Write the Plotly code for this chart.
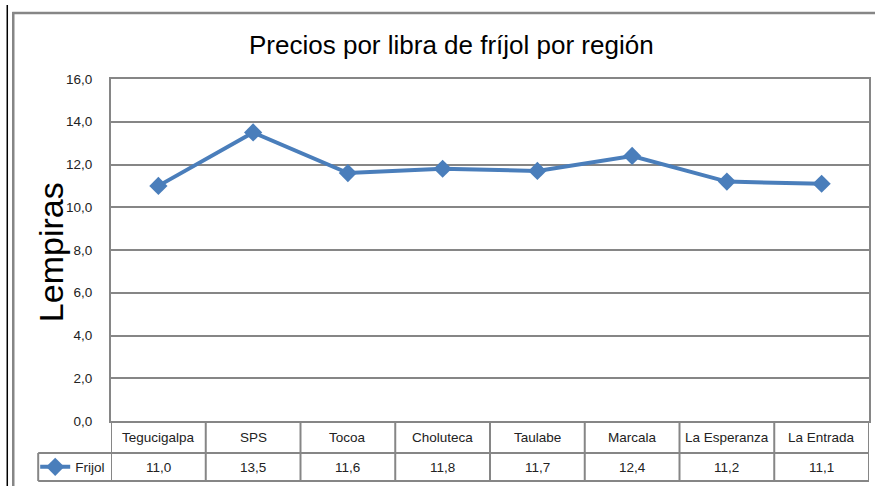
import plotly.graph_objects as go

regiones = ["Tegucigalpa", "SPS", "Tocoa", "Choluteca", "Taulabe", "Marcala", "La Esperanza", "La Entrada"]
frijol = [11.0, 13.5, 11.6, 11.8, 11.7, 12.4, 11.2, 11.1]
serie = "Frijol"
titulo = "Precios por libra de fríjol por región"
eje_y = "Lempiras"
y_ticks = [0, 2, 4, 6, 8, 10, 12, 14, 16]

W, H = 875, 486
PL, PR, PT, PB = 111, 871, 79, 421          # plot area in screen px
L, R, T, B = PL, W - PR, PT, H - PB
pw = PR - PL
ph = PB - PT

def px(xs):
    return (xs - PL) / pw

def py(ys):
    return (PB - ys) / ph

BLUE = "#4A7EBB"
GRID = "#868686"
FONT = "Liberation Sans, Arial, sans-serif"
TXT = "#222222"

xs = list(range(len(regiones)))

fig = go.Figure()
fig.add_trace(go.Scatter(
    x=xs, y=frijol, mode="lines+markers", name=serie,
    line=dict(color=BLUE, width=4),
    marker=dict(symbol="diamond", size=14, color=BLUE),
    showlegend=True, cliponaxis=False, hoverinfo="skip",
))

shapes = []
# outer frames
shapes.append(dict(type="line", xref="paper", yref="paper", x0=px(7), x1=px(7), y0=py(5), y1=py(500),
                   line=dict(color="black", width=1.5)))
shapes.append(dict(type="line", xref="paper", yref="paper", x0=px(13), x1=px(13), y0=py(12), y1=py(500),
                   line=dict(color=GRID, width=2.5)))
shapes.append(dict(type="line", xref="paper", yref="paper", x0=px(12), x1=px(890), y0=py(13), y1=py(13),
                   line=dict(color=GRID, width=2.5)))
# table lines
row1_bot = 453
row2_bot = 481
shapes.append(dict(type="line", xref="paper", yref="paper", x0=px(38), x1=1, y0=py(row1_bot), y1=py(row1_bot),
                   line=dict(color=GRID, width=2)))
shapes.append(dict(type="line", xref="paper", yref="paper", x0=px(38), x1=1, y0=py(row2_bot), y1=py(row2_bot),
                   line=dict(color=GRID, width=2)))
shapes.append(dict(type="line", xref="paper", yref="paper", x0=px(38), x1=px(38), y0=py(row1_bot), y1=py(row2_bot),
                   line=dict(color=GRID, width=2)))
for i in range(len(regiones) + 1):
    shapes.append(dict(type="line", xref="x", yref="paper", x0=i - 0.5, x1=i - 0.5,
                       y0=0, y1=py(row2_bot), line=dict(color=GRID, width=2)))

annotations = []
for i, (reg, val) in enumerate(zip(regiones, frijol)):
    annotations.append(dict(x=i, xref="x", y=py(437), yref="paper", text=reg, showarrow=False,
                            font=dict(size=13.5, color=TXT), xanchor="center", yanchor="middle"))
    annotations.append(dict(x=i, xref="x", y=py(467), yref="paper",
                            text=f"{val:.1f}".replace(".", ","), showarrow=False,
                            font=dict(size=13.5, color=TXT), xanchor="center", yanchor="middle"))
annotations.append(dict(x=px(51), xref="paper", y=py(252), yref="paper", text=eje_y, showarrow=False,
                        textangle=-90, font=dict(size=34, color="black"),
                        xanchor="center", yanchor="middle"))
annotations.append(dict(x=px(452), xref="paper", y=py(45), yref="paper", text=titulo, showarrow=False,
                        font=dict(size=26, color="black"), xanchor="center", yanchor="middle"))

fig.update_layout(
    width=W, height=H,
    margin=dict(l=L, r=R, t=T, b=B, pad=0),
    paper_bgcolor="white", plot_bgcolor="white",
    separators=",.",
    font=dict(family=FONT, size=13.5, color=TXT),
    showlegend=True,
    legend=dict(x=px(35), xanchor="left", y=py(467), yanchor="middle", bgcolor="rgba(0,0,0,0)",
                borderwidth=0, itemwidth=30, font=dict(size=13.5, color=TXT),
                itemclick=False, itemdoubleclick=False),
    xaxis=dict(range=[-0.5, len(regiones) - 0.5], showticklabels=False, showgrid=False,
               zeroline=False, showline=True, linecolor=GRID, linewidth=2, mirror=True, fixedrange=True),
    yaxis=dict(range=[0, 16], tickvals=y_ticks, tickformat=".1f", showgrid=True, gridcolor=GRID,
               gridwidth=2, zeroline=False, showline=True, linecolor=GRID, linewidth=2, mirror=True,
               ticks="", ticklabelstandoff=14, tickfont=dict(size=13.5, color=TXT), fixedrange=True),
    shapes=shapes,
    annotations=annotations,
)

fig.write_html("out.html", config={"displayModeBar": False},
               post_script="document.body.style.margin='0';document.body.style.overflow='hidden';")
